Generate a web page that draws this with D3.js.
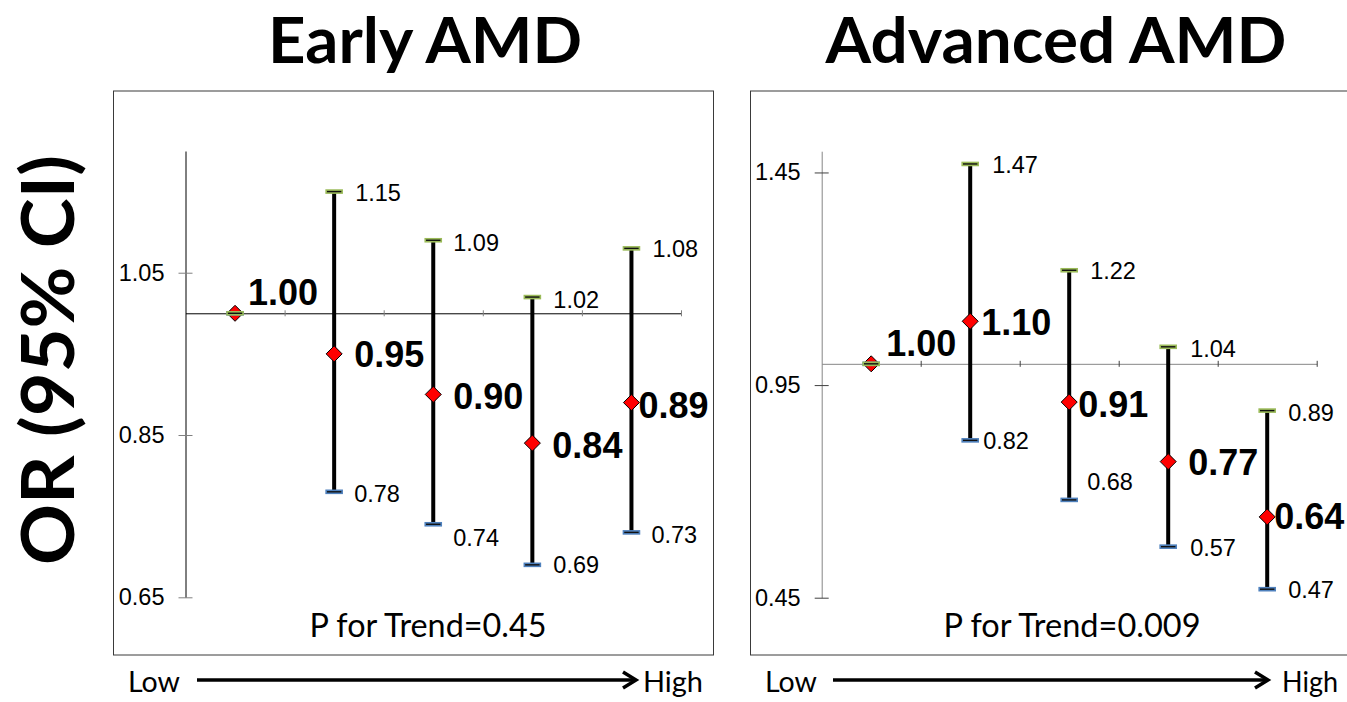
<!DOCTYPE html>
<html>
<head>
<meta charset="utf-8">
<script src="https://cdn.jsdelivr.net/npm/d3@7"></script>
<style>
  body { margin: 0; background: #fff; }
  svg { display: block; }
</style>
</head>
<body>
<div id="chart"></div>
<script>
(function() {
// quintile categories (no tick labels shown, Low -> High)
const categories = ['Q1', 'Q2', 'Q3', 'Q4', 'Q5'];

const earlyOR    = [1.00, 0.95, 0.90, 0.84, 0.89];
const earlyLower = [1.00, 0.78, 0.74, 0.69, 0.73];
const earlyUpper = [1.00, 1.15, 1.09, 1.02, 1.08];
const earlyTicks = [0.65, 0.85, 1.05];

const advOR    = [1.00, 1.10, 0.91, 0.77, 0.64];
const advLower = [1.00, 0.82, 0.68, 0.57, 0.47];
const advUpper = [1.00, 1.47, 1.22, 1.04, 0.89];
const advTicks = [0.45, 0.95, 1.45];

const panelTitles = ['Early AMD', 'Advanced AMD'];
const trendLabels = ['P for Trend=0.45', 'P for Trend=0.009'];

// label placement (dx, dy from the point) - Excel put these by hand
const earlyLabelPos = {
  mean:  [[13, -21], [20, 0], [20, 2], [20, 2], [7, 2]],
  upper: [null, [21, 1], [20, 2], [21, 2], [21, 0]],
  lower: [null, [20, 2], [20, 13], [21, 0], [20, 2]]
};
const advLabelPos = {
  mean:  [[15, -21], [11, 1], [9, 2], [20, 0], [7, -1]],
  upper: [null, [22, 1], [21, 0], [22, 2], [21, 2]],
  lower: [null, [13, 0], [18, -18], [22, 1], [21, 0]]
};

const W = 1347, H = 702;
const svg = d3.select('#chart').append('svg')
  .attr('width', W).attr('height', H)
  .attr('viewBox', `0 0 ${W} ${H}`);

svg.append('rect').attr('width', W).attr('height', H).attr('fill', '#fff');

const ARIAL = '"Liberation Sans", Arial, sans-serif';
const CALIBRI = 'Lato, "Open Sans", sans-serif';

const panels = [
  {
    title: panelTitles[0], titleX: 425, titleW: 314,
    trend: trendLabels[0], trendX: 428, trendW: 237,
    or: earlyOR, lo: earlyLower, hi: earlyUpper, ticks: earlyTicks,
    domain: [0.65, 1.2], yRange: [597.3, 151], xRange: [185.5, 681],
    box: { x: 113.5, y: 91, w: 600, h: 564 },
    axisColor: '#000', tickColor: '#808080',
    pos: earlyLabelPos,
    arrow: { low: 128, x1: 197, tip: 636, high: 643, lowW: 52, highW: 60 }
  },
  {
    title: panelTitles[1], titleX: 1056, titleW: 461,
    trend: trendLabels[1], trendX: 1072, trendW: 257,
    or: advOR, lo: advLower, hi: advUpper, ticks: advTicks,
    domain: [0.45, 1.5], yRange: [597.7, 151.2], xRange: [821.7, 1316.7],
    box: { x: 750.5, y: 91, w: 640, h: 564 },
    axisColor: '#868686', tickColor: '#404040',
    pos: advLabelPos,
    arrow: { low: 765, x1: 833, tip: 1268, high: 1282, lowW: 52, highW: 56 }
  }
];

panels.forEach(p => {
  const g = svg.append('g');

  // chart area box
  g.append('rect')
    .attr('x', p.box.x).attr('y', p.box.y)
    .attr('width', p.box.w).attr('height', p.box.h)
    .attr('fill', '#fff')
    .attr('stroke', '#3a3a3a')
    .attr('stroke-width', 1);

  const y = d3.scaleLinear().domain(p.domain).range(p.yRange);
  const x = d3.scaleBand().domain(categories).range(p.xRange);
  const xEdge = d3.scaleLinear().domain([0, categories.length]).range(p.xRange);
  const cx = i => x(categories[i]) + x.bandwidth() / 2;

  // vertical axis
  const yAxis = g.append('g')
    .attr('transform', `translate(${p.xRange[0]},0)`)
    .call(d3.axisLeft(y).tickValues(p.ticks).tickSize(7).tickSizeOuter(0)
      .tickPadding(14).tickFormat(d3.format('.2f')));
  yAxis.select('.domain').attr('stroke', p.axisColor);
  yAxis.selectAll('.tick line').attr('x1', 7).attr('x2', -7).attr('stroke', p.tickColor);
  yAxis.selectAll('.tick text')
    .attr('font-family', ARIAL).attr('font-size', 23.5).attr('fill', '#000');

  // horizontal axis at OR = 1
  const xAxis = g.append('g')
    .attr('transform', `translate(0,${y(1)})`)
    .call(d3.axisBottom(xEdge).ticks(categories.length).tickSize(3)
      .tickSizeOuter(0).tickFormat(''));
  xAxis.select('.domain').attr('stroke', p.axisColor);
  xAxis.selectAll('.tick line').attr('y1', -3).attr('y2', 3).attr('stroke', p.tickColor);
  xAxis.selectAll('.tick').filter(d => d === 0).remove();

  const idx = d3.range(categories.length);

  // CI bars
  g.selectAll('.ci').data(idx).enter().append('line')
    .attr('x1', cx).attr('x2', cx)
    .attr('y1', i => y(p.hi[i])).attr('y2', i => y(p.lo[i]))
    .attr('stroke', '#000').attr('stroke-width', 4);

  // point estimates
  g.selectAll('.pt').data(idx).enter().append('path')
    .attr('transform', i => `translate(${cx(i)},${y(p.or[i])})`)
    .attr('d', 'M0,-8L8,0L0,8L-8,0Z')
    .attr('fill', '#ff0000').attr('stroke', '#000').attr('stroke-width', 1);

  // CI caps (lower blue, upper green)
  const caps = [
    { vals: p.lo, color: '#4f81bd' },
    { vals: p.hi, color: '#9bbb59' }
  ];
  caps.forEach(c => {
    g.selectAll(null).data(idx).enter().append('rect')
      .attr('x', i => cx(i) - 8).attr('y', i => y(c.vals[i]) - 1.5)
      .attr('width', 16).attr('height', 3)
      .attr('fill', '#111').attr('stroke', c.color).attr('stroke-width', 1.6);
  });

  // value labels
  const addLabels = (vals, pos, size, weight) => {
    g.selectAll(null).data(idx.filter(i => pos[i])).enter().append('text')
      .attr('x', i => cx(i) + pos[i][0])
      .attr('y', i => y(vals[i]) + pos[i][1])
      .attr('dy', '0.36em')
      .attr('font-family', ARIAL).attr('font-size', size)
      .attr('font-weight', weight).attr('fill', '#000')
      .text(i => vals[i].toFixed(2));
  };
  addLabels(p.hi, p.pos.upper, 23.5, 'normal');
  addLabels(p.lo, p.pos.lower, 23.5, 'normal');
  addLabels(p.or, p.pos.mean, 36, 'bold');

  // title
  svg.append('text')
    .attr('x', p.titleX).attr('y', 63)
    .attr('text-anchor', 'middle')
    .attr('font-family', CALIBRI).attr('font-weight', 'bold').attr('font-size', 64)
    .attr('textLength', p.titleW).attr('lengthAdjust', 'spacingAndGlyphs')
    .text(p.title);

  // trend p-value
  g.append('text')
    .attr('x', p.trendX).attr('y', 637)
    .attr('text-anchor', 'middle')
    .attr('font-family', CALIBRI).attr('font-size', 33)
    .attr('textLength', p.trendW).attr('lengthAdjust', 'spacingAndGlyphs')
    .text(p.trend);

  // Low -> High arrow
  const a = p.arrow, ay = 680;
  svg.append('text')
    .attr('x', a.low).attr('y', 692)
    .attr('font-family', CALIBRI).attr('font-size', 28)
    .attr('textLength', a.lowW).attr('lengthAdjust', 'spacingAndGlyphs')
    .text('Low');
  svg.append('text')
    .attr('x', a.high).attr('y', 692)
    .attr('font-family', CALIBRI).attr('font-size', 28)
    .attr('textLength', a.highW).attr('lengthAdjust', 'spacingAndGlyphs')
    .text('High');
  svg.append('line')
    .attr('x1', a.x1).attr('x2', a.tip - 2).attr('y1', ay).attr('y2', ay)
    .attr('stroke', '#000').attr('stroke-width', 3.5);
  svg.append('path')
    .attr('d', `M${a.tip - 13},${ay - 8}L${a.tip},${ay}L${a.tip - 13},${ay + 8}`)
    .attr('fill', 'none').attr('stroke', '#000').attr('stroke-width', 3.5);
});

// shared y-axis title
svg.append('text')
  .attr('transform', 'translate(74,360) rotate(-90)')
  .attr('text-anchor', 'middle')
  .attr('font-family', CALIBRI).attr('font-weight', 'bold').attr('font-size', 72)
  .attr('textLength', 410).attr('lengthAdjust', 'spacingAndGlyphs')
  .text('OR (95% CI)');
})();
</script>
</body>
</html>
